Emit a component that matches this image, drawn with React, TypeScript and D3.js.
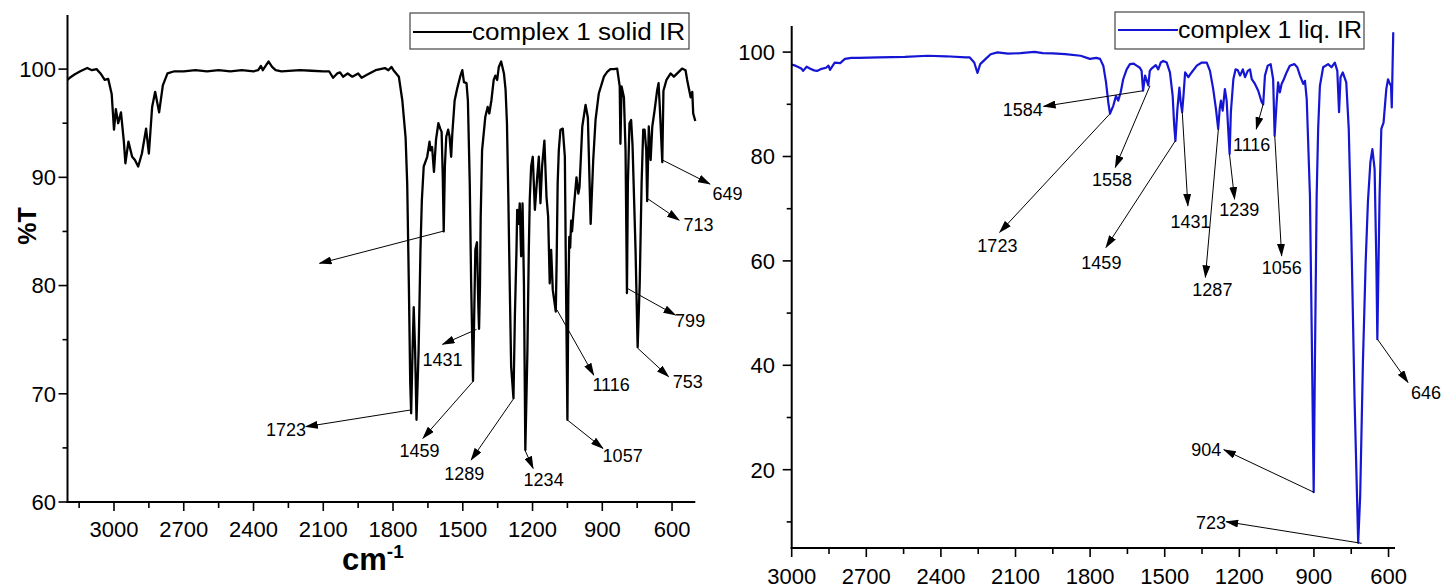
import React from 'react';
import * as d3 from 'd3';

// ---------- DATA ----------
const solidSpectrum: [number, number][] = [
  [3200, 99.0], [3190, 99.2], [3170, 99.5], [3145, 99.8], [3115, 100.1], [3095, 99.9], [3075, 100.0], [3058, 99.6],
  [3040, 99.0], [3025, 99.1], [3010, 97.7], [3000, 94.4], [2992, 96.3], [2982, 95.0], [2970, 96.0], [2958, 93.4],
  [2951, 91.3], [2938, 93.3], [2922, 91.9], [2910, 91.6], [2896, 91.0], [2880, 92.2], [2862, 94.5], [2850, 92.2],
  [2836, 96.5], [2823, 97.9], [2806, 96.0], [2790, 98.5], [2770, 99.6], [2740, 99.8], [2700, 99.8], [2650, 99.9],
  [2600, 99.8], [2550, 99.9], [2500, 99.8], [2450, 99.9], [2400, 99.8], [2380, 99.9], [2368, 100.3], [2360, 99.9],
  [2345, 100.4], [2335, 100.7], [2320, 100.2], [2305, 99.9], [2280, 99.8], [2200, 99.9], [2150, 99.85], [2100, 99.8],
  [2075, 99.8], [2058, 99.2], [2040, 99.6], [2028, 99.7], [2015, 99.3], [1995, 99.6], [1975, 99.3], [1950, 99.6],
  [1935, 99.2], [1910, 99.5], [1875, 99.9], [1835, 100.1], [1820, 99.9], [1807, 100.2], [1798, 99.9], [1775, 99.3],
  [1760, 97.1], [1746, 93.7], [1739, 89.4], [1732, 80.2], [1726, 71.0], [1722, 68.2], [1716, 74.0], [1711, 78.0],
  [1705, 74.0], [1699, 67.6], [1690, 74.0], [1682, 83.3], [1676, 87.9], [1668, 91.0], [1653, 91.9], [1643, 93.3],
  [1639, 92.5], [1632, 92.8], [1624, 90.5], [1615, 93.5], [1605, 95.0], [1597, 94.5], [1591, 94.2], [1586, 90.0],
  [1582, 85.0], [1577, 91.0], [1571, 93.75], [1563, 94.4], [1557, 93.8], [1550, 91.9], [1545, 94.05], [1535, 97.1],
  [1524, 98.2], [1510, 99.4], [1502, 99.9], [1495, 98.8], [1484, 98.7], [1478, 97.1], [1470, 89.4], [1464, 80.2],
  [1456, 71.2], [1451, 77.1], [1446, 83.3], [1439, 84.0], [1433, 78.0], [1430, 76.0], [1426, 80.0], [1423, 86.3],
  [1417, 92.5], [1403, 95.6], [1393, 96.5], [1386, 95.9], [1377, 97.1], [1367, 99.0], [1360, 99.4], [1352, 99.0],
  [1345, 100.2], [1335, 100.7], [1323, 99.6], [1316, 98.1], [1310, 95.0], [1304, 88.0], [1298, 80.0], [1292, 72.5],
  [1282, 69.6], [1276, 77.1], [1269, 83.3], [1266, 87.0], [1260, 85.7], [1255, 87.6], [1249, 82.7], [1243, 87.6],
  [1237, 80.2], [1231, 64.8], [1222, 74.0], [1216, 83.3], [1212, 87.9], [1206, 91.0], [1199, 91.9], [1190, 87.0],
  [1180, 90.0], [1173, 91.9], [1166, 87.6], [1159, 91.0], [1149, 93.4], [1140, 88.2], [1133, 86.4], [1126, 80.2],
  [1120, 83.3], [1113, 79.6], [1100, 77.6], [1096, 82.7], [1092, 89.4], [1087, 92.5], [1080, 94.4], [1070, 94.5],
  [1061, 91.9], [1056, 80.0], [1050, 67.6], [1046, 79.3], [1042, 84.5], [1038, 83.5], [1034, 86.0], [1030, 85.0],
  [1022, 87.3], [1011, 90.0], [1003, 88.5], [998, 89.1], [986, 94.7], [972, 96.7], [962, 95.5], [950, 85.7],
  [939, 91.6], [929, 95.3], [915, 97.75], [893, 99.3], [879, 99.75], [865, 100.0], [850, 100.0], [836, 100.05],
  [825, 98.4], [822, 93.1], [817, 98.4], [807, 97.4], [800, 92.5], [794, 79.3], [790, 89.4], [783, 95.0],
  [776, 95.3], [770, 93.0], [757, 83.3], [748, 74.3], [739, 80.2], [731, 89.4], [724, 94.4], [718, 94.4],
  [711, 92.5], [707, 87.8], [700, 94.7], [692, 91.6], [685, 94.7], [675, 96.2], [664, 98.05], [658, 98.7],
  [652, 96.2], [642, 91.4], [637, 98.0], [624, 99.0], [606, 99.6], [592, 99.3], [571, 99.75], [557, 100.05],
  [542, 99.9], [535, 99.0], [520, 97.4], [513, 97.9], [509, 95.9], [500, 95.2],
];

const liquidSpectrum: [number, number][] = [
  [3000, 97.6], [2985, 97.4], [2972, 97.1], [2960, 96.8], [2954, 96.4], [2940, 97.2], [2925, 96.8], [2910, 96.5],
  [2898, 96.4], [2880, 96.8], [2862, 97.0], [2852, 97.4], [2846, 96.6], [2827, 98.0], [2805, 97.9], [2786, 98.7],
  [2760, 98.9], [2731, 98.9], [2650, 99.0], [2545, 99.1], [2452, 99.3], [2380, 99.2], [2300, 99.0], [2285, 99.0],
  [2266, 98.0], [2253, 96.0], [2242, 97.7], [2220, 98.7], [2200, 99.6], [2173, 99.95], [2130, 99.7], [2080, 99.8],
  [2024, 100.05], [1990, 99.8], [1950, 99.75], [1900, 99.6], [1838, 99.3], [1801, 98.7], [1775, 98.9], [1760, 98.7],
  [1747, 97.4], [1736, 94.2], [1727, 90.4], [1720, 88.2], [1707, 89.7], [1696, 91.6], [1687, 90.7], [1677, 92.3],
  [1667, 94.8], [1653, 96.7], [1640, 97.7], [1625, 97.8], [1613, 97.4], [1600, 97.0], [1593, 96.4], [1587, 92.6],
  [1579, 95.5], [1566, 93.6], [1560, 96.4], [1552, 96.9], [1536, 97.5], [1526, 96.7], [1516, 98.0], [1506, 98.3],
  [1492, 98.0], [1479, 96.1], [1468, 91.6], [1462, 86.0], [1457, 83.0], [1449, 89.1], [1441, 93.2], [1436, 90.5],
  [1430, 88.5], [1424, 92.0], [1418, 96.1], [1405, 95.2], [1392, 96.1], [1371, 97.4], [1351, 98.0], [1331, 98.0],
  [1318, 96.4], [1305, 92.9], [1294, 89.1], [1285, 85.3], [1279, 89.1], [1274, 90.7], [1267, 88.8], [1258, 92.9],
  [1251, 90.7], [1244, 84.6], [1239, 80.5], [1234, 88.5], [1224, 94.8], [1215, 96.7], [1206, 96.5], [1197, 95.5],
  [1186, 96.7], [1177, 95.2], [1166, 96.4], [1157, 96.7], [1150, 94.8], [1137, 93.9], [1124, 92.6], [1110, 90.4],
  [1104, 90.0], [1097, 95.5], [1086, 97.4], [1074, 97.7], [1064, 94.8], [1058, 84.0], [1050, 90.4], [1044, 94.2],
  [1037, 92.3], [1030, 93.9], [1021, 94.8], [1010, 96.1], [997, 97.4], [979, 97.7], [967, 97.1], [956, 95.5],
  [943, 93.9], [936, 94.5], [929, 91.0], [916, 72.5], [909, 46.9], [901, 15.7], [896, 40.6], [889, 72.5],
  [883, 85.3], [876, 93.5], [863, 97.1], [843, 97.7], [829, 97.1], [816, 98.0], [806, 96.4], [799, 88.5],
  [793, 95.2], [784, 96.1], [770, 94.2], [760, 85.3], [750, 66.1], [737, 34.2], [722, 6.0], [714, 15.0],
  [703, 40.6], [692, 59.7], [683, 71.2], [673, 78.9], [665, 81.4], [656, 77.6], [649, 59.7], [645, 45.0],
  [636, 72.5], [629, 85.3], [620, 86.5], [609, 92.9], [602, 94.8], [597, 94.2], [590, 93.5], [587, 89.4],
  [584, 96.7], [581, 103.8],
];

// [label, fromWavenumber, from%T, toWavenumber, to%T, labelWavenumber, label%T]
const solidPeaks: [string, number, number, number, number, number, number][] = [
  ['1723', 1724.7, 68.5, 2175, 66.96, 2260, 66.74],
  ['1459', 1454.2, 71.18, 1671.4, 65.88, 1686, 64.8],
  ['1431', 1441, 75.95, 1587, 74.57, 1587, 73.12],
  ['1289', 1280.4, 69.58, 1464, 63.88, 1494, 62.65],
  ['1234', 1231, 64.71, 1197.4, 63.11, 1152.3, 62.1],
  ['1116', 1094.6, 77.74, 936.8, 71.73, 862, 70.9],
  ['1057', 1049.5, 67.57, 897.2, 64.96, 812.5, 64.28],
  ['799', 792.7, 79.74, 585.4, 77.27, 522.2, 76.75],
  ['753', 747.1, 74.2, 615, 71.58, 532, 71.11],
  ['713', 707.5, 88.06, 569.5, 86.05, 486.5, 85.68],
  ['649', 640.4, 91.59, 437, 89.38, 361.3, 88.55],
  ['', 1582.8, 85.03, 2116, 82.05, 2116, 82.05],
];

const liquidPeaks: [string, number, number, number, number, number, number][] = [
  ['1584', 1587.5, 92.59, 1987.1, 89.6, 2070.8, 89.08],
  ['1723', 1721.4, 88.13, 2163.7, 65.47, 2172.9, 63.03],
  ['1558', 1559.3, 93.55, 1698.8, 77.92, 1712.1, 75.68],
  ['1459', 1457.2, 83.01, 1736.2, 62.59, 1754.7, 59.72],
  ['1431', 1429.4, 88.45, 1406.9, 70.56, 1396, 67.5],
  ['1287', 1284.3, 85.25, 1336.5, 56.85, 1308.4, 54.61],
  ['1239', 1239.7, 80.46, 1219.1, 71.84, 1200.6, 69.93],
  ['1116', 1104.1, 90.04, 1131.9, 85.25, 1150.4, 82.38],
  ['1056', 1057.5, 83.97, 1029.8, 60.98, 1029.8, 58.76],
  ['904', 899.9, 15.67, 1262.2, 23.83, 1332.5, 23.83],
  ['723', 708.1, 5.9, 1252.9, 10.04, 1314, 9.92],
  ['646', 645, 45.03, 521.9, 36.74, 449.5, 34.82],
];

const xTickValues = [3000, 2700, 2400, 2100, 1800, 1500, 1200, 900, 600];
const xMinorTickValues = [3150, 2850, 2550, 2250, 1950, 1650, 1350, 1050, 750];
const solidYTicks = [60, 70, 80, 90, 100];
const solidYMinorTicks = [65, 75, 85, 95];
const liquidYTicks = [20, 40, 60, 80, 100];
const liquidYMinorTicks = [10, 30, 50, 70, 90];
const solidLegendLabel = 'complex 1 solid IR';
const liquidLegendLabel = 'complex 1 liq. IR';
const yAxisTitle = '%T';

// ---------- DRAWING ----------
const FONT = '"Liberation Sans", Arial, Helvetica, sans-serif';

type PanelProps = {
  data: [number, number][];
  peaks: [string, number, number, number, number, number, number][];
  xDomain: [number, number];
  xRange: [number, number];
  yDomain: [number, number];
  yRange: [number, number];
  yTicks: number[];
  yMinor: number[];
  xMinor: number[];
  color: string;
  strokeWidth: number;
  labelRight: number;
  xLabelBaseline: number;
  legend: { x0: number; x1: number; y0: number; y1: number; lineX0: number; lineX1: number; lineY: number; textX: number; textLen: number; label: string };
};

function Panel(p: PanelProps) {
  const x = d3.scaleLinear().domain(p.xDomain).range(p.xRange);
  const y = d3.scaleLinear().domain(p.yDomain).range(p.yRange);
  const line = d3.line<[number, number]>().x((d) => x(d[0])).y((d) => y(d[1]));
  const x0 = p.xRange[0];
  const y0 = p.yRange[0];
  const xTicks = xTickValues.filter((v) => v <= p.xDomain[0] && v >= p.xDomain[1]);
  const xMinor = p.xMinor.filter((v) => v <= p.xDomain[0] && v >= p.xDomain[1]);
  return (
    <g>
      <path d={line(p.data) || ''} fill="none" stroke={p.color} strokeWidth={p.strokeWidth} strokeLinejoin="round" />
      <line x1={x0} x2={x0} y1={p.yRange[1]} y2={y0 + 1} stroke="#000" strokeWidth={2} />
      <line x1={x0 - 1} x2={p.xRange[1]} y1={y0} y2={y0} stroke="#000" strokeWidth={2} />
      {p.yTicks.map((t) => (
        <g key={'yt' + t}>
          <line x1={x0 - 9} x2={x0} y1={y(t)} y2={y(t)} stroke="#000" strokeWidth={1.6} />
          <text x={p.labelRight} y={y(t)} dy="0.36em" textAnchor="end" fontFamily={FONT} fontSize={22}>{t}</text>
        </g>
      ))}
      {p.yMinor.map((t) => (
        <line key={'ym' + t} x1={x0 - 5} x2={x0} y1={y(t)} y2={y(t)} stroke="#000" strokeWidth={1.6} />
      ))}
      {xTicks.map((t) => (
        <g key={'xt' + t}>
          <line x1={x(t)} x2={x(t)} y1={y0} y2={y0 + 9} stroke="#000" strokeWidth={1.6} />
          <text x={x(t)} y={p.xLabelBaseline} textAnchor="middle" fontFamily={FONT} fontSize={22}>{t}</text>
        </g>
      ))}
      {xMinor.map((t) => (
        <line key={'xm' + t} x1={x(t)} x2={x(t)} y1={y0} y2={y0 + 6} stroke="#000" strokeWidth={1.6} />
      ))}
      {p.peaks.map((a, i) => (
        <g key={'pk' + i}>
          <line x1={x(a[1])} y1={y(a[2])} x2={x(a[3])} y2={y(a[4])} stroke="#000" strokeWidth={1} markerEnd="url(#arrow)" />
          {a[0] && (
            <text x={x(a[5])} y={y(a[6])} dy="0.36em" textAnchor="middle" fontFamily={FONT} fontSize={18}>{a[0]}</text>
          )}
        </g>
      ))}
      <rect x={p.legend.x0} y={p.legend.y0} width={p.legend.x1 - p.legend.x0} height={p.legend.y1 - p.legend.y0} fill="#fff" stroke="#444" strokeWidth={1.2} />
      <line x1={p.legend.lineX0} x2={p.legend.lineX1} y1={p.legend.lineY} y2={p.legend.lineY} stroke={p.color} strokeWidth={2.2} />
      <text x={p.legend.textX} y={p.legend.lineY + 8} fontFamily={FONT} fontSize={23} textLength={p.legend.textLen} lengthAdjust="spacingAndGlyphs">{p.legend.label}</text>
    </g>
  );
}

export default function App() {
  return (
    <svg width={1445} height={588} style={{ position: 'absolute', left: 0, top: 0, background: '#fff' }}>
      <defs>
        <marker id="arrow" markerUnits="userSpaceOnUse" markerWidth={13} markerHeight={8} refX={12} refY={4} orient="auto">
          <path d="M0,0 L13,4 L0,8 Z" fill="#000" />
        </marker>
      </defs>
      <rect x={0} y={0} width={1445} height={588} fill="#fff" />
      <Panel
        data={solidSpectrum}
        peaks={solidPeaks}
        xDomain={[3200, 500]}
        xRange={[67.5, 695.3]}
        yDomain={[60, 105]}
        yRange={[502, 15]}
        yTicks={solidYTicks}
        yMinor={solidYMinorTicks}
        xMinor={xMinorTickValues}
        color="#000"
        strokeWidth={2.3}
        labelRight={56}
        xLabelBaseline={537}
        legend={{ x0: 410, x1: 689, y0: 13, y1: 49, lineX0: 413, lineX1: 472, lineY: 32, textX: 472, textLen: 213, label: solidLegendLabel }}
      />
      <Panel
        data={liquidSpectrum}
        peaks={liquidPeaks}
        xDomain={[3000, 574]}
        xRange={[791.7, 1395]}
        yDomain={[5, 105]}
        yRange={[548, 26]}
        yTicks={liquidYTicks}
        yMinor={liquidYMinorTicks}
        xMinor={xMinorTickValues}
        color="#1515d4"
        strokeWidth={2.2}
        labelRight={775}
        xLabelBaseline={584}
        legend={{ x0: 1115, x1: 1364, y0: 12, y1: 49, lineX0: 1118, lineX1: 1178, lineY: 30, textX: 1178, textLen: 184, label: liquidLegendLabel }}
      />
      <text transform="translate(36,226) rotate(-90)" textAnchor="middle" fontFamily={FONT} fontSize={25} fontWeight="bold">{yAxisTitle}</text>
      <text x={342} y={570} fontFamily={FONT} fontSize={31} fontWeight="bold">
        cm<tspan dy={-12} fontSize={19}>-1</tspan>
      </text>
    </svg>
  );
}
